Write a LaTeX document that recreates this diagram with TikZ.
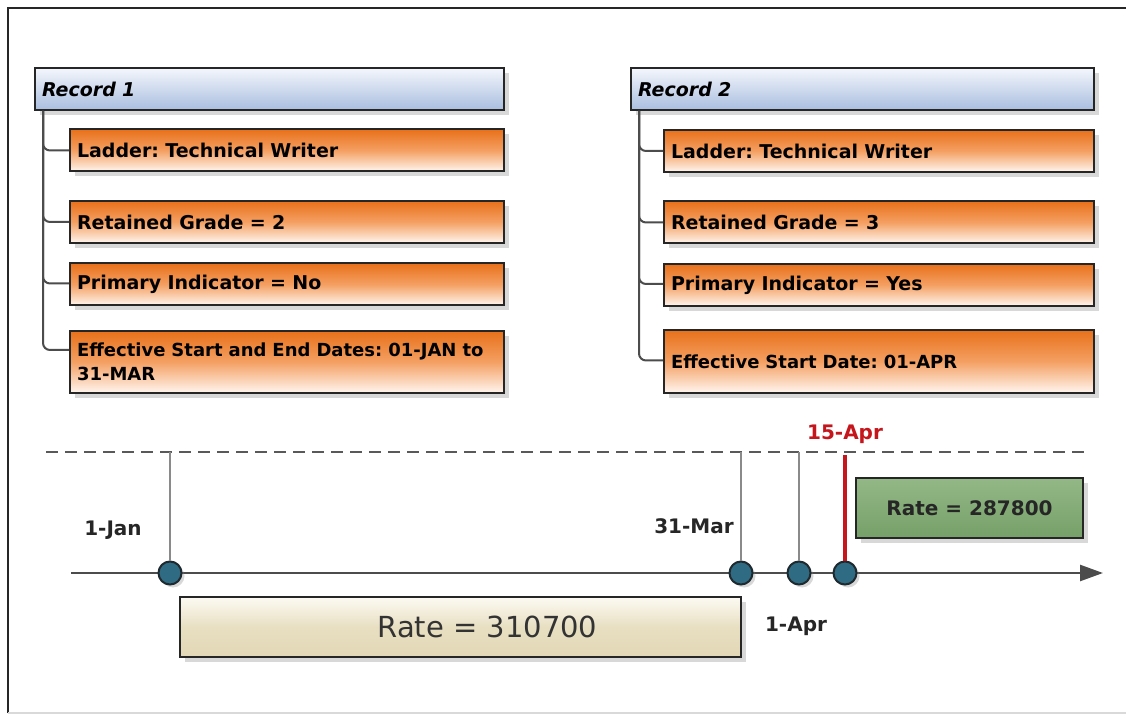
\documentclass[tikz,border=0pt]{standalone}
\usepackage{fontspec}
\setmainfont{DejaVu Sans}
\frenchspacing
\usetikzlibrary{arrows.meta,shadows}

\definecolor{hdrTop}{RGB}{244,246,252}
\definecolor{hdrBot}{RGB}{169,190,223}
\definecolor{itemTop}{RGB}{232,113,26}
\definecolor{itemMid}{RGB}{244,160,99}
\definecolor{itemBot}{RGB}{255,246,240}
\definecolor{rateTop}{RGB}{252,250,243}
\definecolor{rateMid}{RGB}{232,223,194}
\definecolor{rateBot}{RGB}{226,216,182}
\definecolor{newTop}{RGB}{147,184,135}
\definecolor{newBot}{RGB}{118,160,104}
\definecolor{dotFill}{RGB}{47,107,130}
\definecolor{dotDraw}{RGB}{30,42,48}
\definecolor{tickColor}{RGB}{138,138,138}
\definecolor{nowColor}{RGB}{196,22,28}

\begin{document}
\begin{tikzpicture}[x=1pt,y=1pt,
  hdr/.style={draw=black!85,line width=2pt,top color=hdrTop,bottom color=hdrBot,
    drop shadow={shadow xshift=5pt,shadow yshift=-5pt,opacity=0.3},
    inner xsep=7pt,inner ysep=0pt,minimum height=42pt,align=left,
    font=\fontsize{19}{22}\selectfont\bfseries\itshape},
  item/.style={hdr,top color=itemTop,bottom color=itemBot,middle color=itemMid,
    font=\fontsize{19}{24}\selectfont\bfseries},
  branch/.style={draw=black!70,line width=2pt,rounded corners=7pt},
  ratebox/.style={draw=black!85,line width=2pt,
    drop shadow={shadow xshift=5pt,shadow yshift=-5pt,opacity=0.3},
    minimum height=60pt,inner sep=0pt},
  dot/.style={circle,draw=dotDraw,fill=dotFill,line width=2pt,minimum size=23pt,inner sep=0pt,
    drop shadow={shadow xshift=3pt,shadow yshift=-3pt,opacity=0.3}},
  tick/.style={draw=tickColor,line width=1.5pt},
  datelbl/.style={font=\fontsize{20}{24}\selectfont\bfseries,text=black!85,inner sep=0pt}]
\definecolor{fillColor}{RGB}{255,255,255}
\path[use as bounding box,fill=fillColor] (0,0) rectangle (1126,715);

% frame
\draw[black!85,line width=2pt] (8,2) -- (8,707) -- (1126,707);
\draw[black!15,line width=2pt] (8,2) -- (1126,2);

% record 1
\node[hdr,text width=455pt] (rA) at (269.5,626) {Record 1};
\node[item,text width=420pt] (rA1) at (287,564.5) {Ladder: Technical Writer};
\node[item,text width=420pt] (rA2) at (287,493) {Retained Grade = 2};
\node[item,text width=420pt] (rA3) at (287,430.5) {Primary Indicator = No};
\node[item,text width=420pt,minimum height=62pt,font=\fontsize{18}{24}\selectfont\bfseries] (rA4) at (287,353)
  {Effective Start and End Dates: 01-JAN to\\31-MAR};

\draw[branch] ([xshift=9pt]rA.south west) |- (rA1.west);
\draw[branch] ([xshift=9pt]rA.south west) |- (rA2.west);
\draw[branch] ([xshift=9pt]rA.south west) |- ([yshift=1pt]rA3.west);
\draw[branch] ([xshift=9pt]rA.south west) |- ([yshift=12pt]rA4.west);

% record 2
\node[hdr,text width=449pt] (rB) at (862.5,626) {Record 2};
\node[item,text width=416pt] (rB1) at (879,564) {Ladder: Technical Writer};
\node[item,text width=416pt] (rB2) at (879,492.5) {Retained Grade = 3};
\node[item,text width=416pt] (rB3) at (879,430) {Primary Indicator = Yes};
\node[item,text width=416pt,minimum height=63pt,font=\fontsize{18}{24}\selectfont\bfseries] (rB4) at (879,353.5)
  {Effective Start Date: 01-APR};

\draw[branch] ([xshift=9pt]rB.south west) |- (rB1.west);
\draw[branch] ([xshift=9pt]rB.south west) |- (rB2.west);
\draw[branch] ([xshift=9pt]rB.south west) |- ([yshift=1pt]rB3.west);
\draw[branch] ([xshift=9pt]rB.south west) |- ([yshift=1pt]rB4.west);

% timeline
\coordinate (dl) at (46,263);
\coordinate (dr) at (1085,263);
\draw[black!65,line width=1.5pt,dash pattern=on 12pt off 7pt] (dl) -- (dr);

\coordinate (ax0) at (71,142);
\coordinate (ax1) at (1103,142);
\draw[black!70,line width=2.5pt,-{Triangle[length=23pt,width=16pt]}] (ax0) -- (ax1);

\node[dot] (jan) at (170,142) {};
\node[dot] (mar) at (741,142) {};
\node[dot] (apr) at (799,142) {};
\node[dot] (mid) at (845,142) {};

\draw[tick] (jan.north) -- (jan |- dl);
\draw[tick] (mar.north) -- (mar |- dl);
\draw[tick] (apr.north) -- (apr |- dl);
\draw[nowColor,line width=4pt] (mid.north) -- ([yshift=-3pt]mid |- dl);

\node[datelbl] (janLbl) at (113,185) {1-Jan};
\node[datelbl] (marLbl) at (694,189) {31-Mar};
\node[datelbl] (aprLbl) at (796,89) {1-Apr};
\node[datelbl,text=nowColor] (midLbl) at (845,281) {15-Apr};

\node[ratebox,top color=rateTop,bottom color=rateBot,middle color=rateMid,minimum width=561pt,
  font=\fontsize{29}{34}\selectfont,text=black!80] (oldRate) at (460.5,88) {\hspace*{54pt}Rate = 310700};
\node[ratebox,top color=newTop,bottom color=newBot,minimum width=227pt,
  font=\fontsize{20}{24}\selectfont\bfseries,text=black!85] (newRate) at (969.5,207) {Rate = 287800};
\end{tikzpicture}
\end{document}
